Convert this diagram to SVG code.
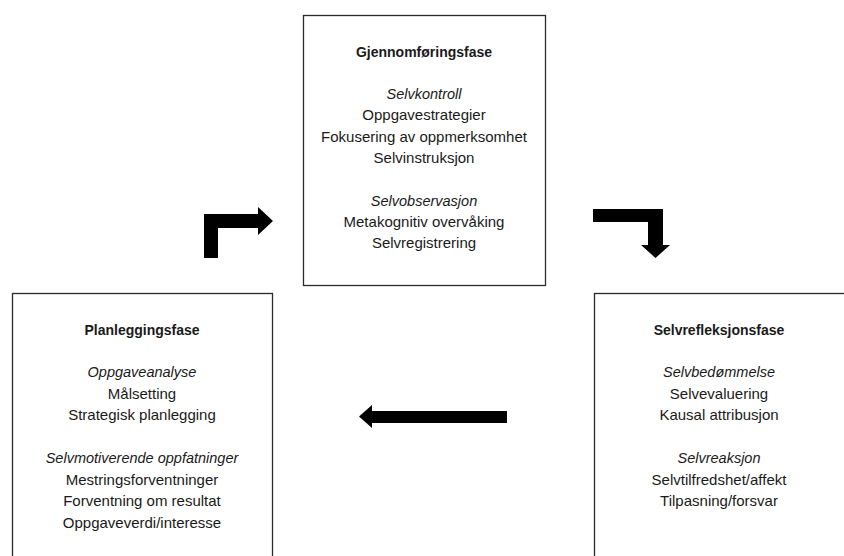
<svg xmlns="http://www.w3.org/2000/svg" width="844" height="556" viewBox="0 0 844 556">
<style>
  .box { fill: #ffffff; stroke: #2a2a2a; stroke-width: 1.3; }
  text { font-family: "Liberation Sans", Arial, sans-serif; fill: #1a1a1a; text-anchor: middle; }
  .t { font-size: 14px; font-weight: bold; }
  .i { font-size: 14.5px; font-style: italic; }
  .r { font-size: 15px; }
  .arrow { fill: #000000; stroke: none; }
</style>
<rect width="844" height="556" fill="#ffffff"/>

<g id="gjennomforingsfase">
  <rect class="box" x="303.5" y="15.5" width="242" height="270"/>
  <text class="t" x="424" y="57">Gjennomføringsfase</text>
  <text class="i" x="424" y="99">Selvkontroll</text>
  <text class="r" x="424" y="120">Oppgavestrategier</text>
  <text class="r" x="424" y="142">Fokusering av oppmerksomhet</text>
  <text class="r" x="424" y="163">Selvinstruksjon</text>
  <text class="i" x="424" y="206">Selvobservasjon</text>
  <text class="r" x="424" y="227">Metakognitiv overvåking</text>
  <text class="r" x="424" y="248">Selvregistrering</text>
</g>

<g id="planleggingsfase">
  <rect class="box" x="12.5" y="293.5" width="260" height="280"/>
  <text class="t" x="142" y="335">Planleggingsfase</text>
  <text class="i" x="142" y="377">Oppgaveanalyse</text>
  <text class="r" x="142" y="399">Målsetting</text>
  <text class="r" x="142" y="420">Strategisk planlegging</text>
  <text class="i" x="142" y="463">Selvmotiverende oppfatninger</text>
  <text class="r" x="142" y="485">Mestringsforventninger</text>
  <text class="r" x="142" y="506">Forventning om resultat</text>
  <text class="r" x="142" y="528">Oppgaveverdi/interesse</text>
</g>

<g id="selvrefleksjonsfase">
  <rect class="box" x="594.5" y="293.5" width="270" height="280"/>
  <text class="t" x="719" y="335">Selvrefleksjonsfase</text>
  <text class="i" x="719" y="377">Selvbedømmelse</text>
  <text class="r" x="719" y="399">Selvevaluering</text>
  <text class="r" x="719" y="420">Kausal attribusjon</text>
  <text class="i" x="719" y="463">Selvreaksjon</text>
  <text class="r" x="719" y="485">Selvtilfredshet/affekt</text>
  <text class="r" x="719" y="506">Tilpasning/forsvar</text>
</g>

<g id="connectors">
  <polygon class="arrow" points="204,258 204,214 258,214 258,207 273,221 258,235 258,228 218,228 218,258"/>
  <polygon class="arrow" points="593,209 663,209 663,245 670,245 655.5,258 641,245 648,245 648,222 593,222"/>
  <polygon class="arrow" points="507,411 507,423 372,423 372,428 359,416.5 372,405 372,411"/>
</g>
</svg>
